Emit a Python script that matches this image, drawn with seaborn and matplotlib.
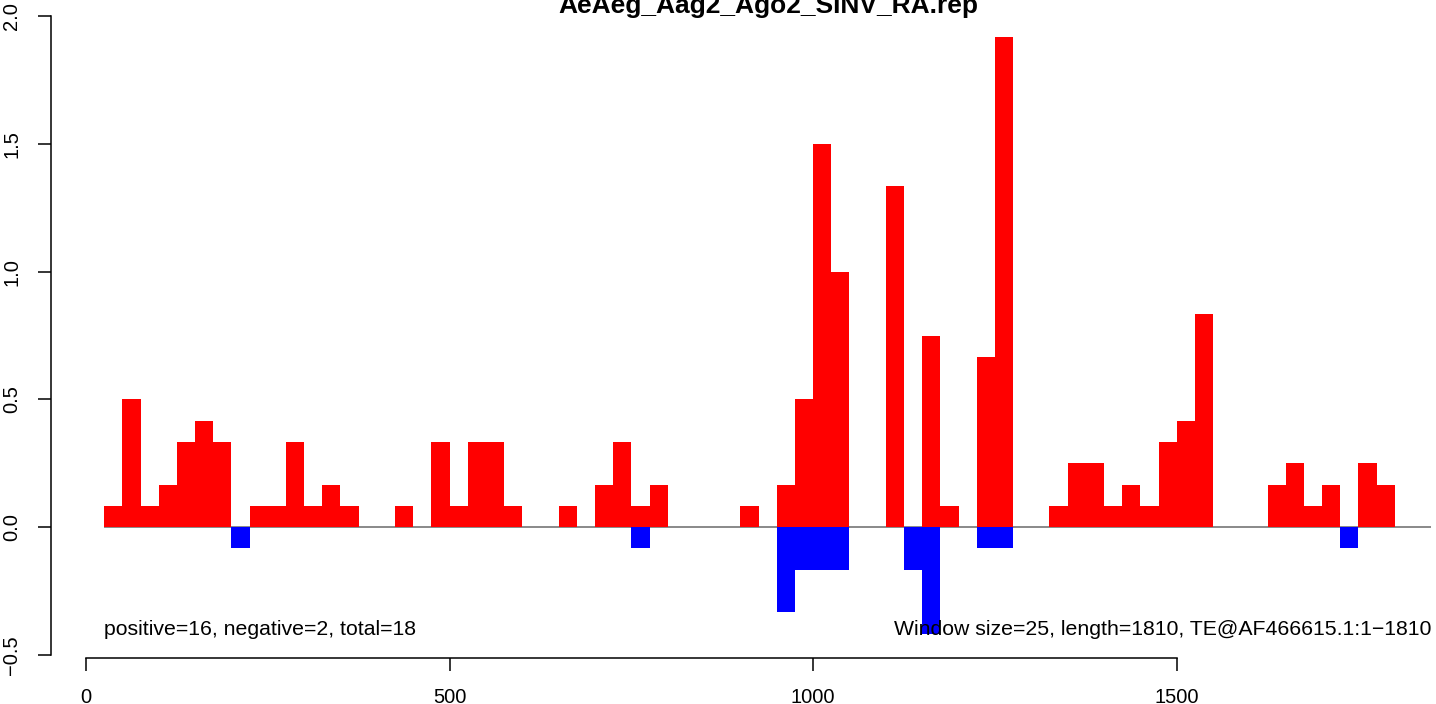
import numpy as np
import pandas as pd
import matplotlib
matplotlib.use("Agg")
import matplotlib.pyplot as plt
import seaborn as sns

# === DATI: finestre da 25 nt, densità positive (rosso) e negative (blu) ===
windows = [25, 50, 75, 100, 125, 150, 175, 200, 225, 250, 275, 300, 325, 350,
           375, 400, 425, 450, 475, 500, 525, 550, 575, 600, 625, 650, 675, 700,
           725, 750, 775, 800, 825, 850, 875, 900, 925, 950, 975, 1000, 1025,
           1050, 1075, 1100, 1125, 1150, 1175, 1200, 1225, 1250, 1275, 1300,
           1325, 1350, 1375, 1400, 1425, 1450, 1475, 1500, 1525, 1550, 1575,
           1600, 1625, 1650, 1675, 1700, 1725, 1750, 1775]

pos_vals = [0.0833, 0.5, 0.0833, 0.1667, 0.3333, 0.4167, 0.3333, 0.0, 0.0833,
            0.0833, 0.3333, 0.0833, 0.1667, 0.0833, 0.0, 0.0, 0.0833, 0.0,
            0.3333, 0.0833, 0.3333, 0.3333, 0.0833, 0.0, 0.0, 0.0833, 0.0,
            0.1667, 0.3333, 0.0833, 0.1667, 0.0, 0.0, 0.0, 0.0, 0.0833, 0.0,
            0.1667, 0.5, 1.5, 1.0, 0.0, 0.0, 1.3333, 0.0, 0.75, 0.0833, 0.0,
            0.6667, 1.9167, 0.0, 0.0, 0.0833, 0.25, 0.25, 0.0833, 0.1667,
            0.0833, 0.3333, 0.4167, 0.8333, 0.0, 0.0, 0.0, 0.1667, 0.25,
            0.0833, 0.1667, 0.0, 0.25, 0.1667]

neg_vals = [0.0, 0.0, 0.0, 0.0, 0.0, 0.0, 0.0, -0.0833, 0.0, 0.0, 0.0, 0.0,
            0.0, 0.0, 0.0, 0.0, 0.0, 0.0, 0.0, 0.0, 0.0, 0.0, 0.0, 0.0, 0.0,
            0.0, 0.0, 0.0, 0.0, -0.0833, 0.0, 0.0, 0.0, 0.0, 0.0, 0.0, 0.0,
            -0.3333, -0.1667, -0.1667, -0.1667, 0.0, 0.0, 0.0, -0.1667,
            -0.4167, 0.0, 0.0, -0.0833, -0.0833, 0.0, 0.0, 0.0, 0.0, 0.0, 0.0,
            0.0, 0.0, 0.0, 0.0, 0.0, 0.0, 0.0, 0.0, 0.0, 0.0, 0.0, 0.0,
            -0.0833, 0.0, 0.0]

win_size = 25
seq_len = 1810
y_ticks = [-0.5, 0.0, 0.5, 1.0, 1.5, 2.0]
y_ticklabels = ["\u22120.5", "0.0", "0.5", "1.0", "1.5", "2.0"]
x_ticks = [0, 500, 1000, 1500]

title = "AeAeg_Aag2_Ago2_SINV_RA.rep"
left_note = "positive=16, negative=2, total=18"
right_note = "Window size=25, length=1810, TE@AF466615.1:1\u22121810"

df = pd.DataFrame({"start": windows, "pos": pos_vals, "neg": neg_vals})
df["center"] = df["start"] + win_size / 2

# === GRAFICO ===
sns.set_style("ticks")
plt.rcParams["font.family"] = ["Liberation Sans", "DejaVu Sans"]
plt.rcParams["text.color"] = "black"

W, H = 1436, 704
fig = plt.figure(figsize=(W / 100, H / 100), dpi=100)
ax = fig.add_axes([51 / W, 46 / H, (W - 51) / W, 658 / H])

# linea dello zero
ax.hlines(0, df["start"].min(), 1850, color="#808080", lw=1.3, zorder=0.5)

sns.barplot(data=df, x="center", y="pos", native_scale=True, orient="x",
            color="#ff0000", saturation=1, width=1, linewidth=0,
            errorbar=None, ax=ax)
sns.barplot(data=df, x="center", y="neg", native_scale=True, orient="x",
            color="#0000ff", saturation=1, width=1, linewidth=0,
            errorbar=None, ax=ax)

px_per_x = 1090.7 / 1500
px_per_y = 255.6
ax.set_xlim((51 - 86) / px_per_x, (W - 86) / px_per_x)
ax.set_ylim(-0.5 - 3 / px_per_y, 2.0 + 16 / px_per_y)

sns.despine(ax=ax)
ax.spines["left"].set_bounds(-0.5, 2.0)
ax.spines["bottom"].set_bounds(0, 1500)
for s in ["left", "bottom"]:
    ax.spines[s].set_linewidth(1.1)
    ax.spines[s].set_color("black")

ax.set_xticks(x_ticks)
ax.set_xticklabels([str(t) for t in x_ticks])
ax.set_yticks(y_ticks)
ax.set_yticklabels(y_ticklabels, rotation=90, va="center")
ax.tick_params(axis="both", length=9.4, width=1.1, color="black",
               labelsize=14.5, labelcolor="black")
ax.tick_params(axis="x", pad=12)
ax.tick_params(axis="y", pad=12)
ax.set_xlabel("")
ax.set_ylabel("")

ax.text(win_size, -0.4, left_note, ha="left", va="center", fontsize=15.3,
        color="black")
ax.text(1850, -0.4, right_note, ha="right", va="center", fontsize=15.3,
        color="black")

fig.text(768 / W, 1 - 13 / H, title, ha="center", va="baseline",
         fontsize=19, fontweight="bold", color="black")

fig.savefig("out.png", dpi=100)
